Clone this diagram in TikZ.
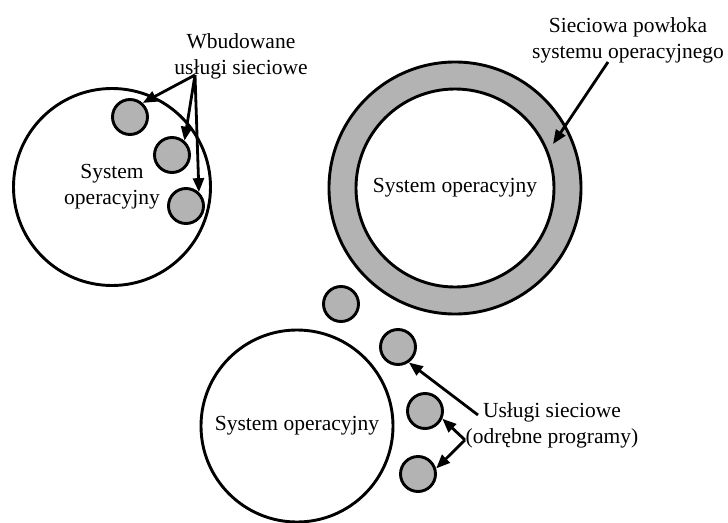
\documentclass[tikz,border=0pt]{standalone}
\usepackage{fontspec}
\setmainfont{Liberation Serif}
\usetikzlibrary{arrows.meta}
\definecolor{svcgray}{RGB}{179,179,179}
\begin{document}
\begin{tikzpicture}[x=1pt,y=-1pt,
  every node/.style={font=\fontsize{21.5}{26}\selectfont},
  os/.style={circle,draw,line width=2.9pt,fill=white,inner sep=0pt,align=center},
  svc/.style={circle,draw,line width=2.9pt,fill=svcgray,minimum size=35pt,inner sep=0pt},
  lbl/.style={align=center,inner sep=0pt},
  pointer/.style={line width=2.8pt,-{Triangle[length=14pt,width=11pt]}},
]
\useasboundingbox (0,0) rectangle (728,522);

% Operating system with built-in network services
\node[os,minimum size=197pt] (osA) at (112,187) {System\\operacyjny};
\node[svc] (a1) at (130,117) {};
\node[svc] (a2) at (172,155) {};
\node[svc] (a3) at (186,206) {};
\node[lbl] (labA) at (241,56) {Wbudowane\\usługi sieciowe};
\coordinate (fromA) at (195,75);
\draw[pointer] (fromA) -- (a1.48);
\draw[pointer] (fromA) -- (a2.49);
\draw[pointer] (fromA) -- (a3.47);

% Operating system wrapped in a network shell
\node[circle,draw,line width=2.9pt,fill=svcgray,minimum size=252pt] (shell) at (455,188) {};
\node[os,minimum size=198pt] (osB) at (455,188) {System operacyjny};
\node[lbl] (labB) at (628,40) {Sieciowa powłoka\\systemu operacyjnego};
\coordinate (fromB) at (608,62);
\coordinate (toB) at (553,144);
\draw[pointer] (fromB) -- (toB);

% Operating system with separate service programs
\node[os,minimum size=192pt] (osC) at (297,426) {System operacyjny};
\node[svc] (b1) at (341,304) {};
\node[svc] (b2) at (398,347) {};
\node[svc] (b3) at (425,411) {};
\node[svc] (b4) at (418,474) {};
\node[lbl] (labC) at (552,425) {Usługi sieciowe\\(odrębne programy)};
\coordinate (fromC1) at (478,415);
\coordinate (fromC2) at (465,440);
\draw[pointer] (fromC1) -- (b2.-55);
\draw[pointer] (fromC2) -- (b3.-24);
\draw[pointer] (fromC2) -- (b4.17);
\end{tikzpicture}
\end{document}
